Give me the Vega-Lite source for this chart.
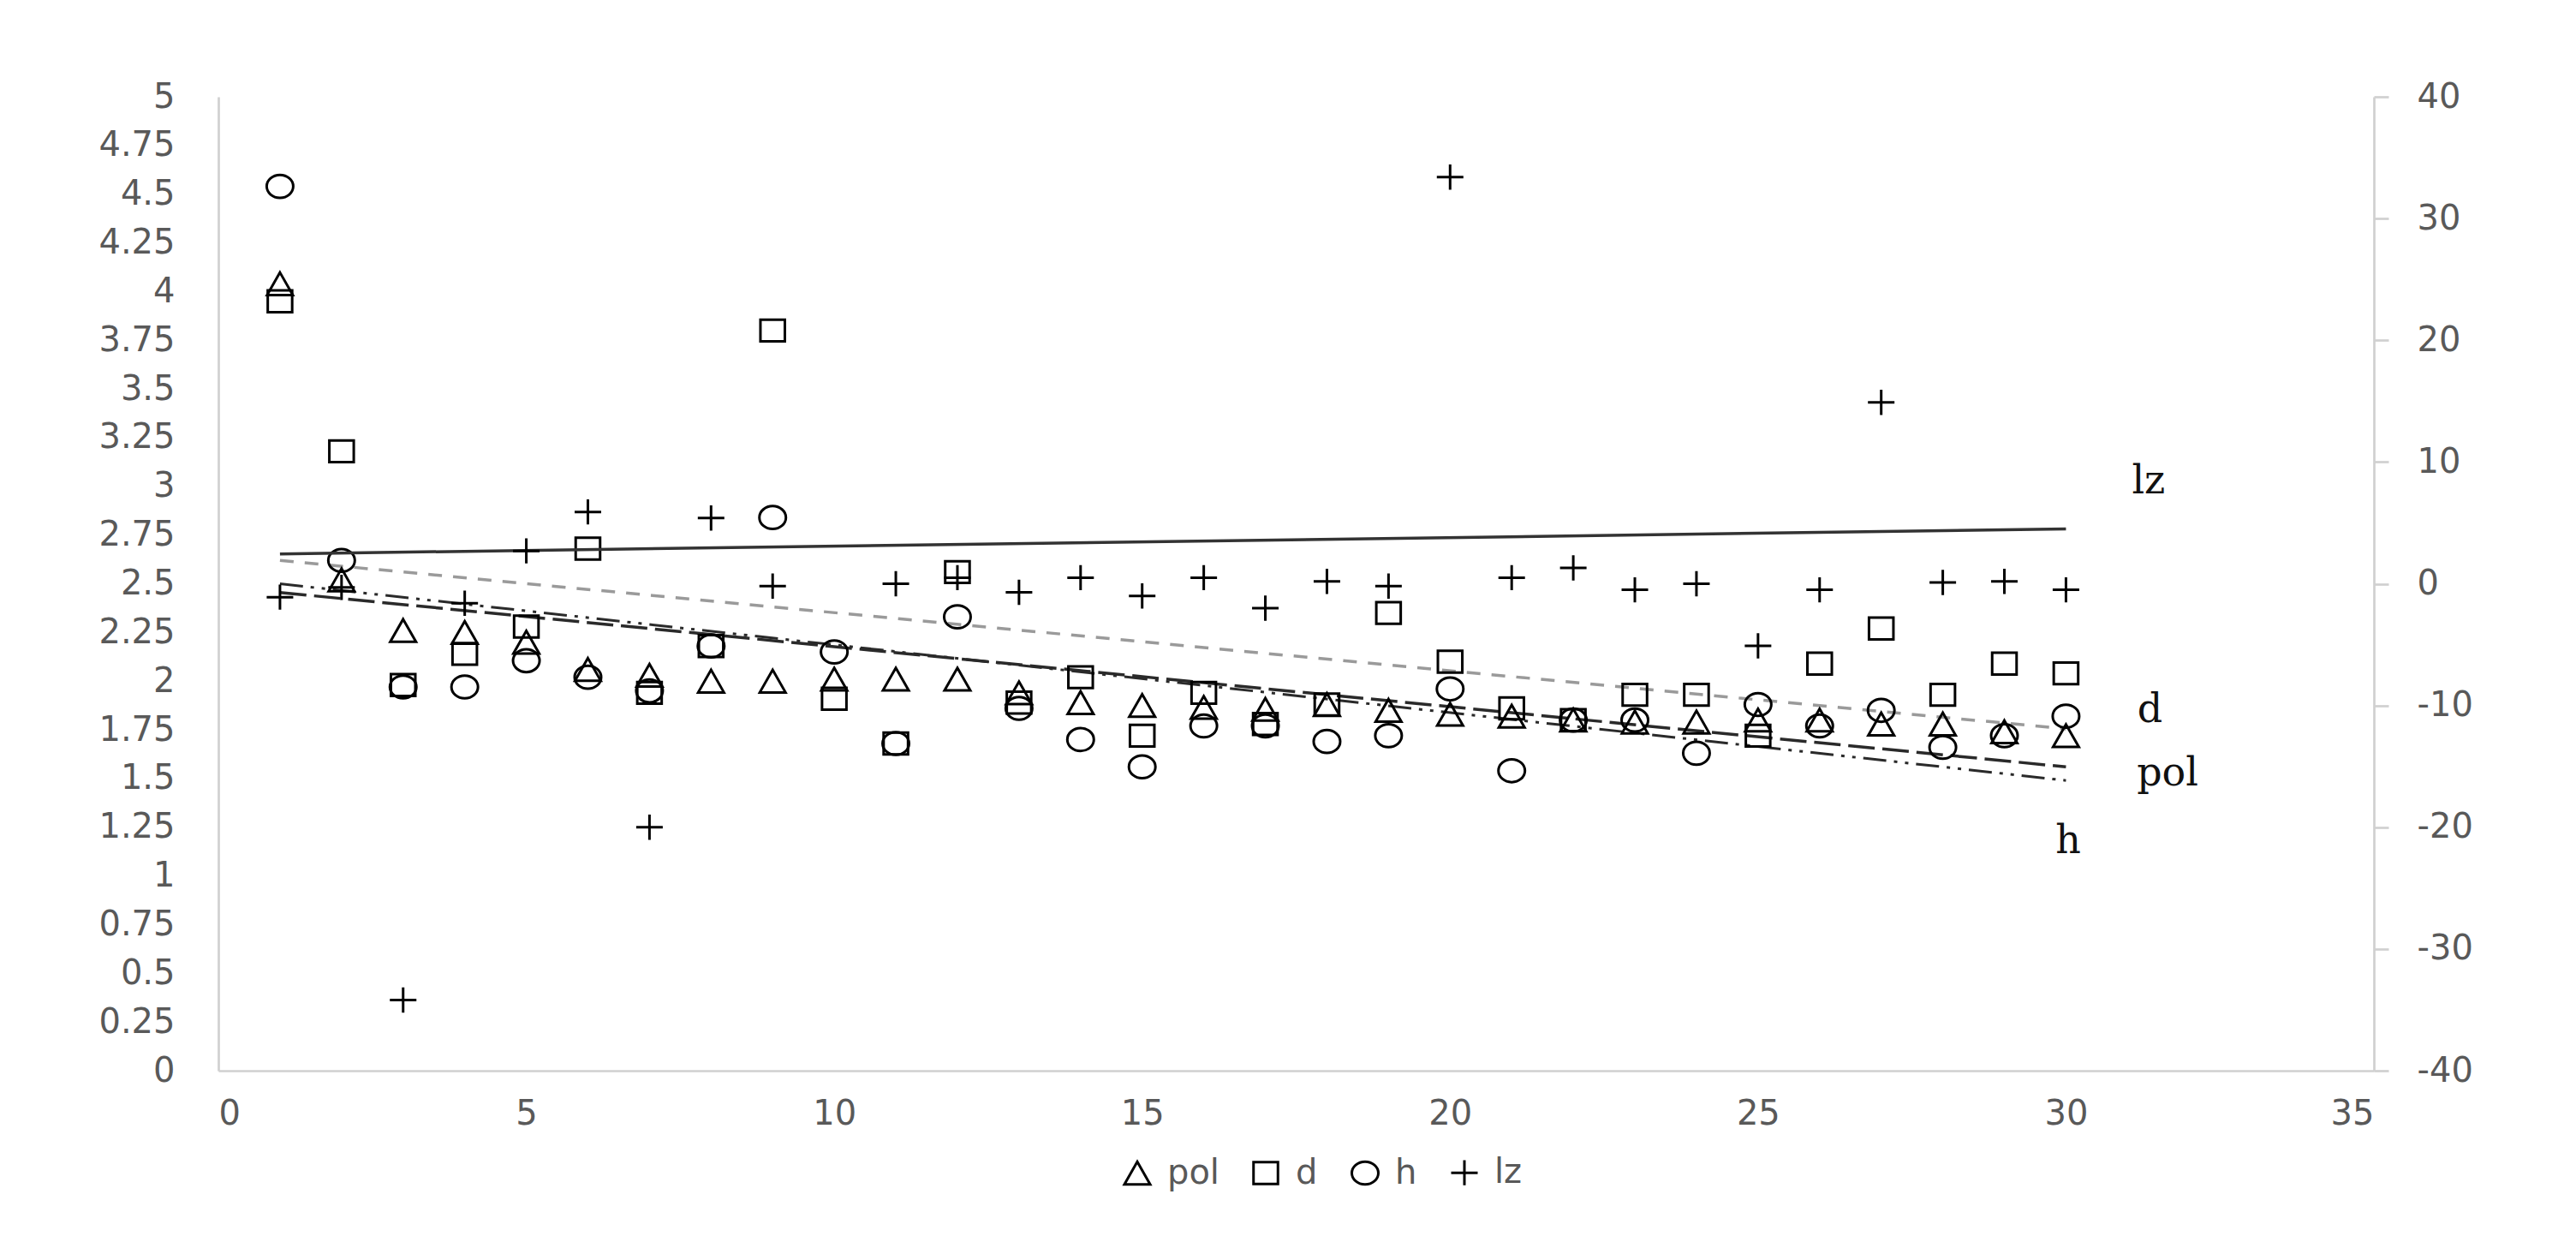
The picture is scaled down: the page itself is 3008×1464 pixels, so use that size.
{
  "$schema": "https://vega.github.io/schema/vega-lite/v6.json",
  "autosize": "none",
  "width": 2517,
  "height": 1137,
  "padding": {"left": 255, "top": 113, "right": 236, "bottom": 214},
  "background": "white",
  "config": {
    "view": {"stroke": null},
    "legend": {
      "orient": "none",
      "legendX": 1053,
      "legendY": 1236,
      "direction": "horizontal",
      "title": null,
      "padding": 0,
      "columnPadding": 33,
      "labelOffset": 15,
      "labelFont": "DejaVu Sans",
      "labelFontSize": 40,
      "labelColor": "#595959",
      "symbolSize": 961,
      "symbolStrokeColor": "black",
      "symbolFillColor": "transparent",
      "symbolStrokeWidth": 3
    }
  },
  "datasets": {
    "pts": [
      {"x": 1, "series": "pol", "value": 4.04}, {"x": 2, "series": "pol", "value": 2.52}, {"x": 3, "series": "pol", "value": 2.26}, {"x": 4, "series": "pol", "value": 2.25}, {"x": 5, "series": "pol", "value": 2.2}, {"x": 6, "series": "pol", "value": 2.06}, {"x": 7, "series": "pol", "value": 2.03}, {"x": 8, "series": "pol", "value": 2.0}, {"x": 9, "series": "pol", "value": 2.0}, {"x": 10, "series": "pol", "value": 2.01},
      {"x": 11, "series": "pol", "value": 2.01}, {"x": 12, "series": "pol", "value": 2.01}, {"x": 13, "series": "pol", "value": 1.94}, {"x": 14, "series": "pol", "value": 1.89}, {"x": 15, "series": "pol", "value": 1.875}, {"x": 16, "series": "pol", "value": 1.865}, {"x": 17, "series": "pol", "value": 1.855}, {"x": 18, "series": "pol", "value": 1.88}, {"x": 19, "series": "pol", "value": 1.85}, {"x": 20, "series": "pol", "value": 1.83},
      {"x": 21, "series": "pol", "value": 1.82}, {"x": 22, "series": "pol", "value": 1.8}, {"x": 23, "series": "pol", "value": 1.79}, {"x": 24, "series": "pol", "value": 1.79}, {"x": 25, "series": "pol", "value": 1.8}, {"x": 26, "series": "pol", "value": 1.8}, {"x": 27, "series": "pol", "value": 1.78}, {"x": 28, "series": "pol", "value": 1.78}, {"x": 29, "series": "pol", "value": 1.74}, {"x": 30, "series": "pol", "value": 1.72},
      {"x": 1, "series": "d", "value": 3.95}, {"x": 2, "series": "d", "value": 3.18}, {"x": 3, "series": "d", "value": 1.98}, {"x": 4, "series": "d", "value": 2.14}, {"x": 5, "series": "d", "value": 2.28}, {"x": 6, "series": "d", "value": 2.68}, {"x": 7, "series": "d", "value": 1.94}, {"x": 8, "series": "d", "value": 2.18}, {"x": 9, "series": "d", "value": 3.8}, {"x": 10, "series": "d", "value": 1.91},
      {"x": 11, "series": "d", "value": 1.68}, {"x": 12, "series": "d", "value": 2.56}, {"x": 13, "series": "d", "value": 1.89}, {"x": 14, "series": "d", "value": 2.02}, {"x": 15, "series": "d", "value": 1.72}, {"x": 16, "series": "d", "value": 1.94}, {"x": 17, "series": "d", "value": 1.78}, {"x": 18, "series": "d", "value": 1.88}, {"x": 19, "series": "d", "value": 2.35}, {"x": 20, "series": "d", "value": 2.1},
      {"x": 21, "series": "d", "value": 1.86}, {"x": 22, "series": "d", "value": 1.8}, {"x": 23, "series": "d", "value": 1.93}, {"x": 24, "series": "d", "value": 1.93}, {"x": 25, "series": "d", "value": 1.72}, {"x": 26, "series": "d", "value": 2.09}, {"x": 27, "series": "d", "value": 2.27}, {"x": 28, "series": "d", "value": 1.93}, {"x": 29, "series": "d", "value": 2.09}, {"x": 30, "series": "d", "value": 2.04},
      {"x": 1, "series": "h", "value": 4.54}, {"x": 2, "series": "h", "value": 2.62}, {"x": 3, "series": "h", "value": 1.97}, {"x": 4, "series": "h", "value": 1.97}, {"x": 5, "series": "h", "value": 2.105}, {"x": 6, "series": "h", "value": 2.02}, {"x": 7, "series": "h", "value": 1.95}, {"x": 8, "series": "h", "value": 2.18}, {"x": 9, "series": "h", "value": 2.84}, {"x": 10, "series": "h", "value": 2.15},
      {"x": 11, "series": "h", "value": 1.68}, {"x": 12, "series": "h", "value": 2.33}, {"x": 13, "series": "h", "value": 1.86}, {"x": 14, "series": "h", "value": 1.7}, {"x": 15, "series": "h", "value": 1.56}, {"x": 16, "series": "h", "value": 1.77}, {"x": 17, "series": "h", "value": 1.77}, {"x": 18, "series": "h", "value": 1.69}, {"x": 19, "series": "h", "value": 1.72}, {"x": 20, "series": "h", "value": 1.96},
      {"x": 21, "series": "h", "value": 1.54}, {"x": 22, "series": "h", "value": 1.8}, {"x": 23, "series": "h", "value": 1.8}, {"x": 24, "series": "h", "value": 1.63}, {"x": 25, "series": "h", "value": 1.88}, {"x": 26, "series": "h", "value": 1.77}, {"x": 27, "series": "h", "value": 1.85}, {"x": 28, "series": "h", "value": 1.66}, {"x": 29, "series": "h", "value": 1.72}, {"x": 30, "series": "h", "value": 1.82}
    ],
    "lzpts": [
      {"x": 1, "series": "lz", "value": -1.1}, {"x": 2, "series": "lz", "value": -0.3}, {"x": 3, "series": "lz", "value": -34.2}, {"x": 4, "series": "lz", "value": -1.6}, {"x": 5, "series": "lz", "value": 2.7}, {"x": 6, "series": "lz", "value": 5.9}, {"x": 7, "series": "lz", "value": -20.0}, {"x": 8, "series": "lz", "value": 5.4}, {"x": 9, "series": "lz", "value": -0.2},
      {"x": 11, "series": "lz", "value": 0.0}, {"x": 12, "series": "lz", "value": 0.5}, {"x": 13, "series": "lz", "value": -0.7}, {"x": 14, "series": "lz", "value": 0.5}, {"x": 15, "series": "lz", "value": -1.0}, {"x": 16, "series": "lz", "value": 0.5}, {"x": 17, "series": "lz", "value": -2.0}, {"x": 18, "series": "lz", "value": 0.2}, {"x": 19, "series": "lz", "value": -0.2}, {"x": 20, "series": "lz", "value": 33.4},
      {"x": 21, "series": "lz", "value": 0.5}, {"x": 22, "series": "lz", "value": 1.3}, {"x": 23, "series": "lz", "value": -0.5}, {"x": 24, "series": "lz", "value": 0.0}, {"x": 25, "series": "lz", "value": -5.1}, {"x": 26, "series": "lz", "value": -0.5}, {"x": 27, "series": "lz", "value": 14.9}, {"x": 28, "series": "lz", "value": 0.1}, {"x": 29, "series": "lz", "value": 0.2}, {"x": 30, "series": "lz", "value": -0.5}
    ],
    "trend": [
      {"series": "d", "x": 1, "value": 2.62}, {"series": "d", "x": 30, "value": 1.755},
      {"series": "pol", "x": 1, "value": 2.455}, {"series": "pol", "x": 30, "value": 1.56},
      {"series": "h", "x": 1, "value": 2.5}, {"series": "h", "x": 30, "value": 1.49}
    ],
    "lztrend": [
      {"series": "lz", "x": 1, "value": 2.45}, {"series": "lz", "x": 30, "value": 4.5}
    ],
    "labels": [
      {"label": "lz", "x": 31.07, "value": 2.966},
      {"label": "d", "x": 31.16, "value": 1.79},
      {"label": "pol", "x": 31.15, "value": 1.464},
      {"label": "h", "x": 29.83, "value": 1.117}
    ]
  },
  "encoding": {
    "x": {
      "field": "x",
      "type": "quantitative",
      "scale": {"domain": [0, 35], "nice": false, "zero": false},
      "axis": {
        "title": null,
        "values": [0, 5, 10, 15, 20, 25, 30, 35],
        "grid": false,
        "ticks": false,
        "tickSize": 0,
        "labelPadding": 30,
        "labelFont": "DejaVu Sans",
        "labelFontSize": 40,
        "labelColor": "#595959",
        "domainColor": "#d0d0d0",
        "domainWidth": 2.7
      }
    }
  },
  "layer": [
    {
      "encoding": {
        "y": {
          "field": "value",
          "type": "quantitative",
          "scale": {"domain": [0, 5], "nice": false, "zero": false},
          "axis": {
            "title": null,
            "orient": "left",
            "values": [0, 0.25, 0.5, 0.75, 1, 1.25, 1.5, 1.75, 2, 2.25, 2.5, 2.75, 3, 3.25, 3.5, 3.75, 4, 4.25, 4.5, 4.75, 5],
            "labelExpr": "'' + datum.value",
            "grid": false,
            "ticks": false,
            "tickSize": 0,
            "labelPadding": 51,
            "labelFont": "DejaVu Sans",
            "labelFontSize": 40,
            "labelColor": "#595959",
            "domainColor": "#d0d0d0",
            "domainWidth": 2.7
          }
        }
      },
      "layer": [
        {
          "data": {"name": "trend"},
          "transform": [{"filter": "datum.series === 'd'"}],
          "mark": {"type": "line", "color": "#9a9a9a", "strokeWidth": 3.5, "strokeDash": [16, 13]}
        },
        {
          "data": {"name": "trend"},
          "transform": [{"filter": "datum.series === 'pol'"}],
          "mark": {"type": "line", "color": "#2a2a2a", "strokeWidth": 3.5, "strokeDash": [31, 9]}
        },
        {
          "data": {"name": "trend"},
          "transform": [{"filter": "datum.series === 'h'"}],
          "mark": {"type": "line", "color": "#2a2a2a", "strokeWidth": 3, "strokeDash": [27, 9, 4, 9, 4, 9]}
        },
        {
          "data": {"name": "pts"},
          "mark": {"type": "point", "filled": false, "color": "black", "strokeWidth": 3, "size": 961, "opacity": 1},
          "encoding": {
            "shape": {
              "field": "series",
              "type": "nominal",
              "scale": {
                "domain": ["pol", "d", "h", "lz"],
                "range": [
                  "M0,-0.85L0.97,0.85L-0.97,0.85Z",
                  "M-0.92,-0.82L0.92,-0.82L0.92,0.82L-0.92,0.82Z",
                  "M-1,0A1,0.86,0,1,1,1,0A1,0.86,0,1,1,-1,0Z",
                  "M-1,0L1,0M0,-0.95L0,0.95"
                ]
              },
              "legend": {}
            }
          }
        },
        {
          "data": {"name": "labels"},
          "mark": {"type": "text", "font": "DejaVu Serif", "fontSize": 46, "align": "left", "baseline": "alphabetic", "color": "#111111"},
          "encoding": {"text": {"field": "label", "type": "nominal"}}
        }
      ]
    },
    {
      "encoding": {
        "y": {
          "field": "value",
          "type": "quantitative",
          "scale": {"domain": [-40, 40], "nice": false, "zero": false},
          "axis": {
            "title": null,
            "orient": "right",
            "values": [-40, -30, -20, -10, 0, 10, 20, 30, 40],
            "labelExpr": "(datum.value < 0 ? '-' : '') + abs(datum.value)",
            "grid": false,
            "ticks": true,
            "tickSize": 17,
            "tickColor": "#d0d0d0",
            "tickWidth": 2.7,
            "labelPadding": 33,
            "labelFont": "DejaVu Sans",
            "labelFontSize": 40,
            "labelColor": "#595959",
            "domainColor": "#d0d0d0",
            "domainWidth": 2.7
          }
        }
      },
      "layer": [
        {
          "data": {"name": "lztrend"},
          "mark": {"type": "line", "color": "#333333", "strokeWidth": 3.5}
        },
        {
          "data": {"name": "lzpts"},
          "mark": {"type": "point", "filled": false, "color": "black", "strokeWidth": 3, "size": 961, "opacity": 1},
          "encoding": {
            "shape": {
              "field": "series",
              "type": "nominal",
              "scale": {
                "domain": ["pol", "d", "h", "lz"],
                "range": [
                  "M0,-0.85L0.97,0.85L-0.97,0.85Z",
                  "M-0.92,-0.82L0.92,-0.82L0.92,0.82L-0.92,0.82Z",
                  "M-1,0A1,0.86,0,1,1,1,0A1,0.86,0,1,1,-1,0Z",
                  "M-1,0L1,0M0,-0.95L0,0.95"
                ]
              },
              "legend": {}
            }
          }
        }
      ]
    }
  ],
  "resolve": {"scale": {"y": "independent"}}
}
